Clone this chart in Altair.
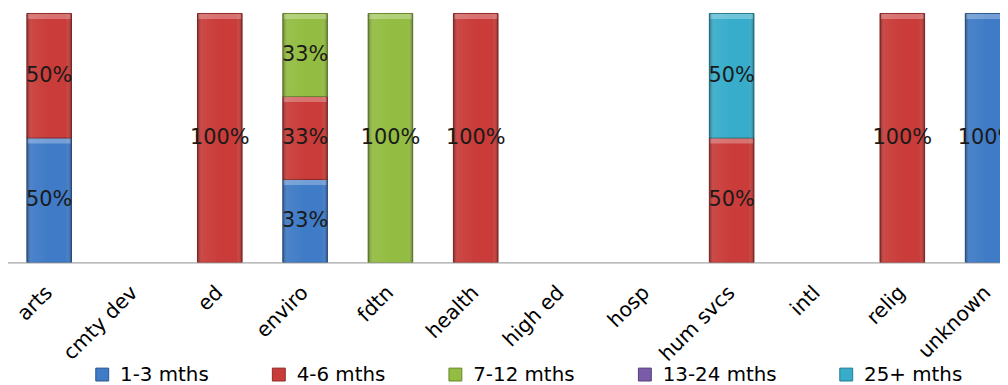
import altair as alt
import pandas as pd

categories = ["arts", "cmty dev", "ed", "enviro", "fdtn", "health",
              "high ed", "hosp", "hum svcs", "intl", "relig", "unknown"]
series = ["1-3 mths", "4-6 mths", "7-12 mths", "13-24 mths", "25+ mths"]
colors = ["#3F7BC6", "#C93C39", "#93BD42", "#7A5BA8", "#37ADCB"]
strokes = ["#2A5590", "#8E2A28", "#66862C", "#543E78", "#237A90"]

# share of each series within each category
s_1_3 = [0.5, 0, 0, 1/3, 0, 0, 0, 0, 0, 0, 0, 1.0]
s_4_6 = [0.5, 0, 1.0, 1/3, 0, 1.0, 0, 0, 0.5, 0, 1.0, 0]
s_7_12 = [0, 0, 0, 1/3, 1.0, 0, 0, 0, 0, 0, 0, 0]
s_13_24 = [0, 0, 0, 0, 0, 0, 0, 0, 0, 0, 0, 0]
s_25p = [0, 0, 0, 0, 0, 0, 0, 0, 0.5, 0, 0, 0]

values = [s_1_3, s_4_6, s_7_12, s_13_24, s_25p]

rows = []
for ci, cat in enumerate(categories):
    base = 0.0
    for si, name in enumerate(series):
        v = values[si][ci]
        if v > 0:
            rows.append({"cat": cat, "series": name, "order": si, "value": v,
                         "y0": base, "y1": base + v, "mid": base + v / 2})
            base += v
df = pd.DataFrame(rows)

FONT = "DejaVu Sans"

x = alt.X("cat:N", sort=categories,
          scale=alt.Scale(domain=categories, range=[-1.5, 1030.5],
                          paddingInner=0.477, paddingOuter=0.2385),
          axis=alt.Axis(title=None, ticks=False, tickSize=0, labelAngle=-45,
                        labelAlign="right", labelBaseline="middle",
                        labelPadding=27, labelFont=FONT, labelFontSize=20.5,
                        labelColor="#000000", domainColor="#A6A6A6",
                        domainWidth=1.2, grid=False))
yscale = alt.Scale(domain=[0, 1], range=[255, 4])

bars = alt.Chart(df).mark_bar(strokeWidth=1, clip=True).encode(
    x=x,
    y=alt.Y("y1:Q", scale=yscale, axis=None),
    y2="y0:Q",
    color=alt.Color("series:N", sort=series,
                    scale=alt.Scale(domain=series, range=colors),
                    legend=alt.Legend(title=None, orient="none", direction="horizontal",
                                      legendX=85, legendY=358, symbolType="square",
                                      symbolSize=169, symbolStrokeWidth=1,
                                      labelFont=FONT, labelFontSize=20,
                                      labelColor="#000000", labelOffset=8,
                                      columnPadding=60, labelLimit=300)),
    stroke=alt.Stroke("series:N", sort=series,
                      scale=alt.Scale(domain=series, range=strokes), legend=None),
)

shade = alt.Chart(df).mark_bar(
    clip=True,
    fill=alt.LinearGradient(
        gradient="linear", x1=0, x2=1, y1=0, y2=0,
        stops=[alt.GradientStop(color="rgba(0,0,0,0.32)", offset=0),
               alt.GradientStop(color="rgba(255,255,255,0.06)", offset=0.12),
               alt.GradientStop(color="rgba(255,255,255,0.0)", offset=0.5),
               alt.GradientStop(color="rgba(255,255,255,0.0)", offset=0.88),
               alt.GradientStop(color="rgba(0,0,0,0.32)", offset=1)]),
).encode(x=x, y=alt.Y("y1:Q", scale=yscale, axis=None), y2="y0:Q")

bevel = alt.Chart(df).mark_tick(
    clip=True, thickness=5, size=43, yOffset=3, color="#FFFFFF", opacity=0.28,
).encode(x=x, y=alt.Y("y1:Q", scale=yscale, axis=None))

labels = alt.Chart(df).mark_text(font=FONT, fontSize=21, color="#1a1a1a", clip=True).encode(
    x=x,
    y=alt.Y("mid:Q", scale=yscale, axis=None),
    text=alt.Text("value:Q", format=".0%"),
)

chart = alt.layer(bars, shade, bevel, labels).properties(
    width=1000, height=255,
    padding={"left": 0, "top": 0, "right": 0, "bottom": 122},
    autosize=alt.AutoSizeParams(type="none"),
    view=alt.ViewBackground(stroke=None, strokeWidth=0),
).configure_view(strokeWidth=0, strokeOpacity=0).configure(background="#FFFFFF")

chart.save("out.html", embed_options={"renderer": "svg", "actions": False})
